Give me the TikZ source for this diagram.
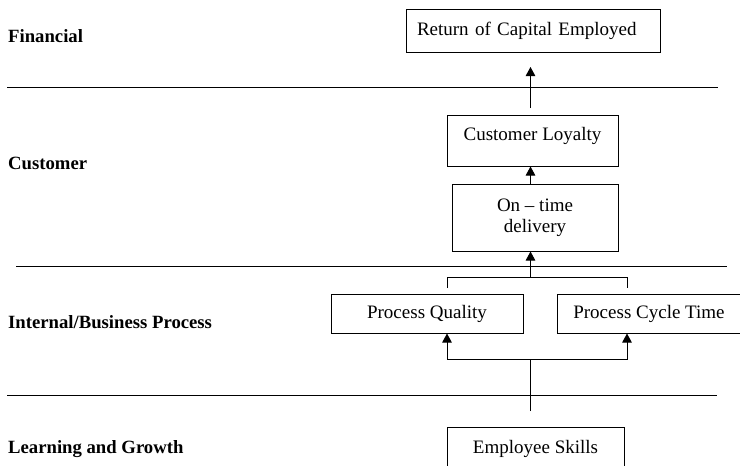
\documentclass[tikz,border=0pt]{standalone}
\usepackage{fontspec}
\setmainfont{Liberation Serif}
\usetikzlibrary{arrows.meta,calc}
\begin{document}
\begin{tikzpicture}[x=1pt,y=-1pt,
  every node/.style={font=\fontsize{19}{21}\selectfont},
  lab/.style={anchor=base west,inner sep=0pt,font=\fontsize{18.7}{21}\selectfont\bfseries},
  box/.style={draw,line width=1pt,inner sep=2pt,align=center},
  toptext/.style={text height=13pt,text depth=13pt},
  sep/.style={line width=1pt},
  con/.style={line width=1pt},
  arr/.style={line width=1pt,-{Triangle[width=9.5pt,length=9pt]}}]
\useasboundingbox (0,0) rectangle (740,466);
\clip (0,0) rectangle (740,466);
% lane labels
\node[lab] (lfin) at (8,42) {Financial};
\node[lab] (lcus) at (8,169) {Customer};
\node[lab] (lint) at (8,328) {Internal/Business Process};
\node[lab] (llea) at (8,453) {Learning and Growth};
% separators
\draw[sep] (7,87.5) -- (718,87.5);
\draw[sep] (16,266.5) -- (727,266.5);
\draw[sep] (7,395.5) -- (717,395.5);
% boxes
\node[box,minimum width=254pt,minimum height=43pt,text width=240pt,align=left] (ret) at (533,30.5) {\hspace*{4pt}Return of Capital Employed};
\node[box,toptext,minimum width=171pt,minimum height=51pt] (loy) at (532.5,140.5) {Customer Loyalty};
\node[box,minimum width=166pt,minimum height=67pt] (ont) at (535,217.5) {On -- time\\delivery};
\node[box,minimum width=192pt,minimum height=39pt] (pq) at (427,313.5) {Process Quality};
\node[box,minimum width=184pt,minimum height=39pt] (pct) at (649,313.5) {Process Cycle Time};
\node[box,toptext,minimum width=177pt,minimum height=53pt] (emp) at (535.5,453.5) {Employee Skills};
% helper coordinates
\coordinate (c1s) at (530.5,108);
\coordinate (c1e) at (530.5,67);
\coordinate (topj) at (530.5,277.5);
\coordinate (ql) at (447,288);
\coordinate (qr) at (627,288);
\coordinate (botj) at (530.5,359.5);
\coordinate (ebot) at (530.5,411);
% connectors
\draw[arr] (c1s) -- (c1e);
\draw[arr] (ont.north -| c1s) -- (loy.south -| c1s);
\draw[con] (ql) -- (ql |- topj) -- (qr |- topj) -- (qr);
\draw[arr] (topj) -- (ont.south -| topj);
\draw[con] (ebot) -- (botj);
\draw[con] (botj -| ql) -- (botj -| qr);
\draw[arr] (botj -| ql) -- (pq.south -| ql);
\draw[arr] (botj -| qr) -- (pct.south -| qr);
\end{tikzpicture}
\end{document}
